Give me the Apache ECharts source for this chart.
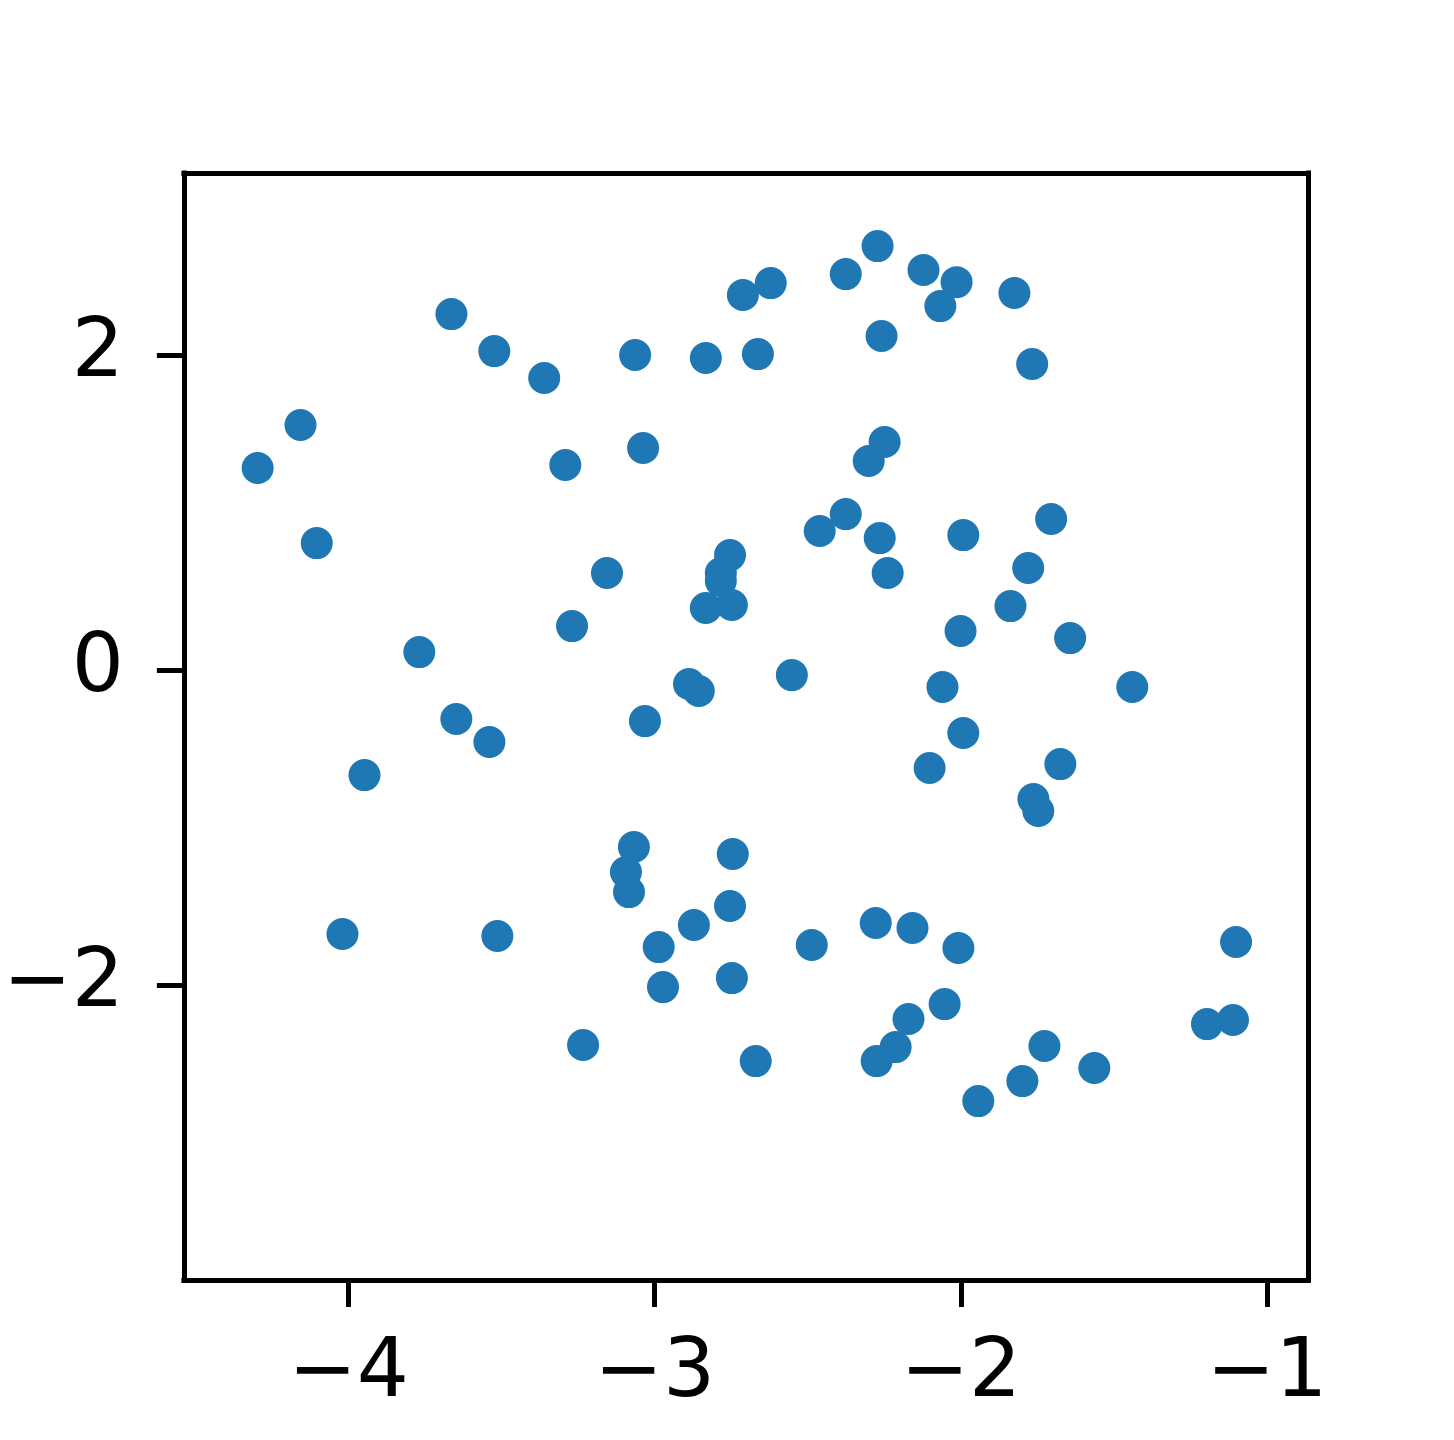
<!DOCTYPE html>
<html>
<head>
<meta charset="utf-8">
<script src="https://cdn.jsdelivr.net/npm/echarts@6/dist/echarts.min.js"></script>
<style>
  html, body { margin: 0; padding: 0; background: #fff; }
  #chart { width: 1454px; height: 1440px; }
</style>
</head>
<body>
<div id="chart"></div>
<script>
// scatter points
var xValues = [
    -4.297, -4.157, -4.104, -3.664, -3.524, -3.361, -3.292, -3.270, -3.769, -3.648,
    -3.540, -3.948, -4.020, -3.514, -3.234, -3.064, -3.038, -3.156, -3.032, -3.068,
    -3.094, -3.084, -2.987, -2.973, -2.872, -2.888, -2.856, -2.833, -2.712, -2.621,
    -2.663, -2.754, -2.784, -2.784, -2.833, -2.748, -2.745, -2.754, -2.748, -2.670,
    -2.552, -2.487, -2.461, -2.376, -2.376, -2.272, -2.259, -2.301, -2.249, -2.265,
    -2.239, -2.278, -2.275, -2.213, -2.171, -2.158, -2.122, -2.067, -2.014, -2.060,
    -2.102, -1.992, -2.001, -1.992, -2.008, -2.053, -1.943, -1.825, -1.767, -1.705,
    -1.780, -1.838, -1.643, -1.675, -1.763, -1.747, -1.727, -1.799, -1.564, -1.440,
    -1.101, -1.196, -1.111
];
var yValues = [
    1.283, 1.556, 0.806, 2.260, 2.025, 1.854, 1.302, 0.279, 0.114, -0.311,
    -0.457, -0.667, -1.676, -1.689, -2.381, 2.000, 1.410, 0.616, -0.324, -1.124,
    -1.283, -1.410, -1.759, -2.013, -1.619, -0.089, -0.133, 1.981, 2.381, 2.457,
    2.006, 0.730, 0.616, 0.565, 0.394, 0.413, -1.168, -1.498, -1.956, -2.483,
    -0.032, -1.746, 0.883, 0.990, 2.514, 2.692, 2.121, 1.327, 1.448, 0.838,
    0.616, -1.606, -2.483, -2.394, -2.216, -1.638, 2.540, 2.311, 2.463, -0.108,
    -0.622, 0.857, 0.248, -0.400, -1.765, -2.121, -2.737, 2.394, 1.943, 0.959,
    0.648, 0.406, 0.203, -0.597, -0.819, -0.895, -2.387, -2.610, -2.527, -0.108,
    -1.727, -2.248, -2.222
];
var xTicks = [-4, -3, -2, -1];
var yTicks = [-2, 0, 2];

var points = [];
for (var i = 0; i < xValues.length; i++) {
    points.push([xValues[i], yValues[i]]);
}

// matplotlib 用 U+2212 做负号
function minusFmt(v) {
    return String(v).replace('-', '\u2212');
}

var tickFont = { fontFamily: 'DejaVu Sans', fontSize: 82, color: '#000' };
var frameLine = { show: true, onZero: false, lineStyle: { color: '#000', width: 5, cap: 'square' } };

// 上边和右边的框线用只画轴线的副轴
var option = {
    animation: false,
    backgroundColor: '#fff',
    grid: {
        left: 182, top: 173, width: 1126, height: 1107,
        show: false,
        containLabel: false
    },
    xAxis: [{
        type: 'value',
        min: -4.538, max: -0.866,
        splitLine: { show: false },
        axisLine: frameLine,
        axisTick: { show: true, customValues: xTicks, length: 27, lineStyle: { color: '#000', width: 5 } },
        axisLabel: Object.assign({ customValues: xTicks, margin: 54, formatter: minusFmt }, tickFont)
    }, {
        type: 'value', position: 'top',
        min: -4.538, max: -0.866,
        splitLine: { show: false },
        axisLine: frameLine,
        axisTick: { show: false },
        axisLabel: { show: false }
    }],
    yAxis: [{
        type: 'value',
        min: -3.873, max: 3.156,
        splitLine: { show: false },
        axisLine: frameLine,
        axisTick: { show: true, customValues: yTicks, length: 27, lineStyle: { color: '#000', width: 5 } },
        axisLabel: Object.assign({ customValues: yTicks, margin: 60, formatter: minusFmt }, tickFont)
    }, {
        type: 'value', position: 'right',
        min: -3.873, max: 3.156,
        splitLine: { show: false },
        axisLine: frameLine,
        axisTick: { show: false },
        axisLabel: { show: false }
    }],
    series: [{
        type: 'scatter',
        data: points,
        symbol: 'circle',
        symbolSize: 32,
        itemStyle: { color: '#1f77b4', opacity: 1 }
    }]
};

var myChart = echarts.init(document.getElementById('chart'));
myChart.setOption(option);
</script>
</body>
</html>
